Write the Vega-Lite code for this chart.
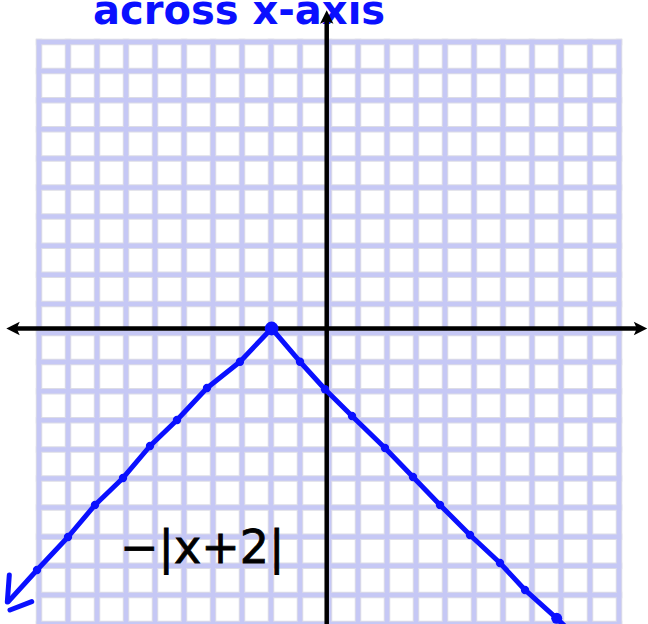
{
  "$schema": "https://vega.github.io/schema/vega-lite/v6.json",
  "width": 648,
  "height": 624,
  "autosize": {"type": "none"},
  "padding": 0,
  "background": "white",
  "config": {"view": {"stroke": null}},
  "datasets": {
    "gridX": [
      {"gx": -9.921}, {"gx": -8.921}, {"gx": -7.921}, {"gx": -6.921}, {"gx": -5.921},
      {"gx": -4.921}, {"gx": -3.921}, {"gx": -2.921}, {"gx": -1.921}, {"gx": -0.921},
      {"gx": 0.079}, {"gx": 1.079}, {"gx": 2.079}, {"gx": 3.079}, {"gx": 4.079},
      {"gx": 5.079}, {"gx": 6.079}, {"gx": 7.079}, {"gx": 8.079}, {"gx": 9.079}, {"gx": 10.079}
    ],
    "gridY": [
      {"gy": 9.845}, {"gy": 8.845}, {"gy": 7.845}, {"gy": 6.845}, {"gy": 5.845},
      {"gy": 4.845}, {"gy": 3.845}, {"gy": 2.845}, {"gy": 1.845}, {"gy": 0.845},
      {"gy": -0.155}, {"gy": -1.155}, {"gy": -2.155}, {"gy": -3.155}, {"gy": -4.155},
      {"gy": -5.155}, {"gy": -6.155}, {"gy": -7.155}, {"gy": -8.155}, {"gy": -9.155}, {"gy": -10.155}
    ],
    "curve": [
      {"x": -10.979, "y": -9.388},
      {"x": -9.99, "y": -8.299},
      {"x": -8.921, "y": -7.165},
      {"x": -7.99, "y": -6.065},
      {"x": -7.024, "y": -5.137},
      {"x": -6.093, "y": -4.038},
      {"x": -5.162, "y": -3.144},
      {"x": -4.128, "y": -2.045},
      {"x": -2.99, "y": -1.141},
      {"x": -1.9, "y": 0.0},
      {"x": -0.921, "y": -1.141},
      {"x": -0.059, "y": -2.089},
      {"x": 0.872, "y": -3.007},
      {"x": 2.01, "y": -4.107},
      {"x": 2.976, "y": -5.103},
      {"x": 3.907, "y": -6.065},
      {"x": 4.941, "y": -7.096},
      {"x": 5.976, "y": -8.058},
      {"x": 6.838, "y": -8.986},
      {"x": 7.931, "y": -9.959},
      {"x": 8.562, "y": -10.567}
    ],
    "dots": [
      {"x": -9.99, "y": -8.299},
      {"x": -8.921, "y": -7.165},
      {"x": -7.99, "y": -6.065},
      {"x": -7.024, "y": -5.137},
      {"x": -6.093, "y": -4.038},
      {"x": -5.162, "y": -3.144},
      {"x": -4.128, "y": -2.045},
      {"x": -2.99, "y": -1.141},
      {"x": -0.921, "y": -1.141},
      {"x": -0.059, "y": -2.089},
      {"x": 0.872, "y": -3.007},
      {"x": 2.01, "y": -4.107},
      {"x": 2.976, "y": -5.103},
      {"x": 3.907, "y": -6.065},
      {"x": 4.941, "y": -7.096},
      {"x": 5.976, "y": -8.058},
      {"x": 6.838, "y": -8.986}
    ],
    "arrowTail": [
      {"stroke": "a", "x": -10.945, "y": -8.471},
      {"stroke": "a", "x": -11.014, "y": -9.399},
      {"stroke": "b", "x": -10.921, "y": -9.674},
      {"stroke": "b", "x": -10.172, "y": -9.388}
    ]
  },
  "layer": [
    {
      "data": {"name": "gridX"},
      "mark": {"type": "rule", "color": "#dcdce6", "strokeWidth": 6.5, "strokeCap": "square", "clip": true},
      "encoding": {
        "x": {"field": "gx", "type": "quantitative", "scale": {"domain": [-11.266, 11.079], "nice": false, "zero": false}, "axis": null},
        "y": {"datum": 9.845, "type": "quantitative", "scale": {"domain": [-10.155, 11.289], "nice": false, "zero": false}, "axis": null},
        "y2": {"datum": -10.4}
      }
    },
    {
      "data": {"name": "gridY"},
      "mark": {"type": "rule", "color": "#dcdce6", "strokeWidth": 6.5, "strokeCap": "square", "clip": true},
      "encoding": {
        "y": {"field": "gy", "type": "quantitative"},
        "x": {"datum": -9.921, "type": "quantitative"},
        "x2": {"datum": 10.079}
      }
    },
    {
      "data": {"name": "gridX"},
      "mark": {"type": "rule", "color": "#c6c8f5", "strokeWidth": 4.5, "strokeCap": "square", "clip": true},
      "encoding": {
        "x": {"field": "gx", "type": "quantitative"},
        "y": {"datum": 9.845, "type": "quantitative"},
        "y2": {"datum": -10.4}
      }
    },
    {
      "data": {"name": "gridY"},
      "mark": {"type": "rule", "color": "#c6c8f5", "strokeWidth": 4.5, "strokeCap": "square", "clip": true},
      "encoding": {
        "y": {"field": "gy", "type": "quantitative"},
        "x": {"datum": -9.921, "type": "quantitative"},
        "x2": {"datum": 10.079}
      }
    },
    {
      "data": {"values": [{"x": -8.059, "y": 10.464, "label": "across x-axis"}]},
      "mark": {"type": "text", "align": "left", "baseline": "alphabetic", "font": "DejaVu Sans", "fontWeight": "bold", "fontSize": 40, "color": "#0a10ff", "clip": true},
      "encoding": {
        "x": {"field": "x", "type": "quantitative"},
        "y": {"field": "y", "type": "quantitative"},
        "text": {"field": "label"}
      }
    },
    {
      "data": {"values": [{"x": -7.128, "y": -8.058, "label": "−|x+2|"}]},
      "mark": {"type": "text", "align": "left", "baseline": "alphabetic", "font": "DejaVu Sans", "fontSize": 46, "color": "black", "stroke": "black", "strokeWidth": 0.8, "clip": true},
      "encoding": {
        "x": {"field": "x", "type": "quantitative"},
        "y": {"field": "y", "type": "quantitative"},
        "text": {"field": "label"}
      }
    },
    {
      "data": {"values": [{"x0": -10.85, "x1": 10.78}]},
      "mark": {"type": "rule", "color": "black", "strokeWidth": 4.5},
      "encoding": {
        "x": {"field": "x0", "type": "quantitative"},
        "x2": {"field": "x1"},
        "y": {"datum": 0, "type": "quantitative"}
      }
    },
    {
      "data": {"values": [{"y0": 10.66, "y1": -10.155}]},
      "mark": {"type": "rule", "color": "black", "strokeWidth": 4.5},
      "encoding": {
        "y": {"field": "y0", "type": "quantitative"},
        "y2": {"field": "y1"},
        "x": {"datum": 0, "type": "quantitative"}
      }
    },
    {
      "data": {"values": [{"x": -10.817, "y": 0}]},
      "mark": {"type": "point", "shape": "M1,0 L-1,-1 L-0.55,0 L-1,1 Z", "filled": true, "color": "black", "opacity": 1, "size": 180, "angle": 180},
      "encoding": {
        "x": {"field": "x", "type": "quantitative"},
        "y": {"field": "y", "type": "quantitative"}
      }
    },
    {
      "data": {"values": [{"x": 10.821, "y": 0}]},
      "mark": {"type": "point", "shape": "M1,0 L-1,-1 L-0.55,0 L-1,1 Z", "filled": true, "color": "black", "opacity": 1, "size": 180, "angle": 0},
      "encoding": {
        "x": {"field": "x", "type": "quantitative"},
        "y": {"field": "y", "type": "quantitative"}
      }
    },
    {
      "data": {"values": [{"x": 0, "y": 10.704}]},
      "mark": {"type": "point", "shape": "M1,0 L-1,-1 L-0.55,0 L-1,1 Z", "filled": true, "color": "black", "opacity": 1, "size": 180, "angle": 270},
      "encoding": {
        "x": {"field": "x", "type": "quantitative"},
        "y": {"field": "y", "type": "quantitative"}
      }
    },
    {
      "data": {"name": "curve"},
      "mark": {"type": "line", "color": "#0a10ff", "strokeWidth": 5, "strokeCap": "round", "strokeJoin": "round", "clip": true},
      "encoding": {
        "x": {"field": "x", "type": "quantitative"},
        "y": {"field": "y", "type": "quantitative"},
        "order": {"field": "x"}
      }
    },
    {
      "data": {"name": "arrowTail"},
      "mark": {"type": "line", "color": "#0a10ff", "strokeWidth": 5, "strokeCap": "round", "clip": true},
      "encoding": {
        "x": {"field": "x", "type": "quantitative"},
        "y": {"field": "y", "type": "quantitative"},
        "detail": {"field": "stroke"}
      }
    },
    {
      "data": {"name": "dots"},
      "mark": {"type": "circle", "color": "#0a10ff", "opacity": 1, "size": 70, "clip": true},
      "encoding": {
        "x": {"field": "x", "type": "quantitative"},
        "y": {"field": "y", "type": "quantitative"}
      }
    },
    {
      "data": {"values": [{"x": -1.9, "y": 0.0}]},
      "mark": {"type": "circle", "color": "#0a10ff", "opacity": 1, "size": 190},
      "encoding": {
        "x": {"field": "x", "type": "quantitative"},
        "y": {"field": "y", "type": "quantitative"}
      }
    },
    {
      "data": {"values": [{"x": 7.931, "y": -9.959}]},
      "mark": {"type": "circle", "color": "#0a10ff", "opacity": 1, "size": 120, "clip": true},
      "encoding": {
        "x": {"field": "x", "type": "quantitative"},
        "y": {"field": "y", "type": "quantitative"}
      }
    }
  ]
}
